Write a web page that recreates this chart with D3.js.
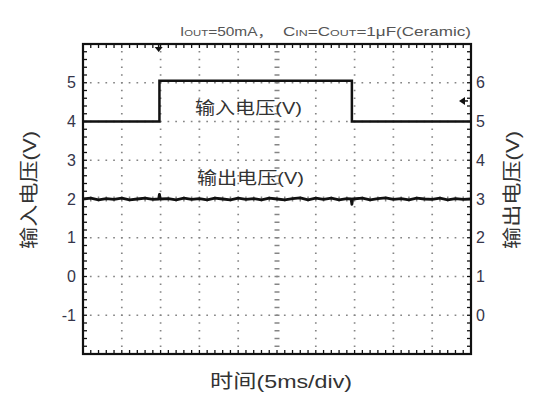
<!DOCTYPE html>
<html><head><meta charset="utf-8">
<script src="https://cdn.jsdelivr.net/npm/d3@7"></script>
<style>
html,body{margin:0;padding:0;background:#fff;}
text{font-family:"Liberation Sans",Arial,"Noto Sans CJK SC",sans-serif;}
</style></head>
<body><svg id="c" width="533" height="399"></svg>
<script>
// ---- data ----
const leftTicks = [5,4,3,2,1,0,-1];
const rightTicks = [6,5,4,3,2,1,0];
const inputT = [0, 1.97, 1.97, 6.93, 6.93, 10];
const inputV = [4.0, 4.0, 5.05, 5.05, 4.0, 4.0];
const outputT = [0,0.2,0.4,0.6,0.8,1.0,1.2,1.4,1.6,1.8,1.95,1.97,1.99,2.2,2.4,2.6,2.8,3.0,3.2,3.4,3.6,3.8,4.0,4.2,4.4,4.6,4.8,5.0,5.2,5.4,5.6,5.8,6.0,6.2,6.4,6.6,6.8,6.91,6.93,6.95,7.2,7.4,7.6,7.8,8.0,8.2,8.4,8.6,8.8,9.0,9.2,9.4,9.6,9.8,10];
const outputV = [2.0,2.02,1.98,2.01,1.99,2.02,1.98,2.0,2.02,1.99,2.0,2.12,2.0,2.01,1.98,2.02,1.99,2.01,1.98,2.02,2.0,1.98,2.02,1.99,2.01,1.98,2.02,2.0,1.98,2.01,2.03,1.98,2.02,1.99,2.02,1.98,2.01,2.0,1.86,2.0,2.02,1.98,2.01,2.03,1.99,2.01,1.98,2.02,2.0,1.99,2.02,1.98,2.01,1.99,2.0];
const triggerT = 1.95;
const triggerLevel = 4.53;
const labels = {left:"输入电压(V)", right:"输出电压(V)", x:"时间(5ms/div)", inp:"输入电压(V)", out:"输出电压(V)"};

// ---- scales ----
const svg = d3.select("#c");
const x = d3.scaleLinear().domain([0,10]).range([83,471]);
const yL = d3.scaleLinear().domain([-2,6]).range([354,44]);
const yR = d3.scaleLinear().domain([-1,7]).range([354,44]);
const minor = d3.range(0, 10.001, 0.2);
const minorY = d3.range(-2, 6.001, 0.2);
const ink = "#111";

// grid dotted lines
const g = svg.append("g");
const dx = (x(1)-x(0))/5, dy = (yL(0)-yL(1))/5;
d3.range(1,10).filter(d=>d!==5).forEach(t=>{
  g.append("line").attr("x1",x(t)).attr("x2",x(t)).attr("y1",yL(6)).attr("y2",yL(-2))
   .attr("stroke","#858585").attr("stroke-width",1.7)
   .attr("stroke-dasharray",`1.7 ${dy-1.7}`).attr("stroke-dashoffset",0.85);
});
d3.range(-1,6).filter(d=>d!==2).forEach(v=>{
  g.append("line").attr("y1",yL(v)).attr("y2",yL(v)).attr("x1",x(0)).attr("x2",x(10))
   .attr("stroke","#858585").attr("stroke-width",1.7)
   .attr("stroke-dasharray",`1.7 ${dx-1.7}`).attr("stroke-dashoffset",0.85);
});
// center axes with small dashes
minorY.forEach(v=>{
  g.append("line").attr("x1",x(5)-2.5).attr("x2",x(5)+2.5).attr("y1",yL(v)).attr("y2",yL(v))
   .attr("stroke","#858585").attr("stroke-width",1.5);
});
minor.forEach(t=>{
  g.append("line").attr("x1",x(t)).attr("x2",x(t)).attr("y1",yL(2)-2.5).attr("y2",yL(2)+2.5)
   .attr("stroke","#858585").attr("stroke-width",1.5);
});

// frame minor ticks
const fr = svg.append("g").attr("stroke",ink).attr("stroke-width",1.3);
minor.forEach(t=>{
  fr.append("line").attr("x1",x(t)).attr("x2",x(t)).attr("y1",yL(6)).attr("y2",yL(6)+4);
  fr.append("line").attr("x1",x(t)).attr("x2",x(t)).attr("y1",yL(-2)).attr("y2",yL(-2)-4);
});
minorY.forEach(v=>{
  fr.append("line").attr("x1",x(0)).attr("x2",x(0)+4).attr("y1",yL(v)).attr("y2",yL(v));
  fr.append("line").attr("x1",x(10)).attr("x2",x(10)-4).attr("y1",yL(v)).attr("y2",yL(v));
});
svg.append("rect").attr("x",x(0)).attr("y",yL(6)).attr("width",x(10)-x(0)).attr("height",yL(-2)-yL(6))
  .attr("fill","none").attr("stroke",ink).attr("stroke-width",2.2);

// traces
const line = d3.line().x(d=>x(d[0])).y(d=>yL(d[1]));
svg.append("path").datum(d3.zip(inputT,inputV)).attr("d",line)
  .attr("fill","none").attr("stroke",ink).attr("stroke-width",2.5);
svg.append("path").datum(d3.zip(outputT,outputV)).attr("d",line)
  .attr("fill","none").attr("stroke",ink).attr("stroke-width",2.8).attr("stroke-linejoin","round");

// markers
const tx = x(triggerT), ty = yL(6);
svg.append("line").attr("x1",tx).attr("x2",tx).attr("y1",ty).attr("y2",ty+4).attr("stroke",ink).attr("stroke-width",1.5);
svg.append("path").attr("d",`M${tx-4},${ty+3}L${tx+4},${ty+3}L${tx},${ty+8}Z`).attr("fill",ink);
const ay = yL(triggerLevel), ax = x(10)-3;
svg.append("path").attr("d",`M${ax-9},${ay}L${ax-3},${ay-4}L${ax-3},${ay+4}Z`).attr("fill",ink);
svg.append("line").attr("x1",ax-4).attr("x2",ax).attr("y1",ay).attr("y2",ay).attr("stroke",ink).attr("stroke-width",1.5);

// axes labels
const axL = svg.append("g").attr("transform",`translate(${x(0)-7},0)`)
  .call(d3.axisLeft(yL).tickValues(leftTicks).tickSize(0).tickPadding(0).tickFormat(d=>String(d)));
const axR = svg.append("g").attr("transform",`translate(${x(10)+5},0)`)
  .call(d3.axisRight(yR).tickValues(rightTicks).tickSize(0).tickPadding(0).tickFormat(d=>String(d)));
[axL,axR].forEach(a=>{
  a.select(".domain").remove();
  a.selectAll("text").attr("font-size",16).attr("fill","#35354a")
   .attr("font-family",'"Liberation Sans",Arial,sans-serif');
});

// axis titles
svg.append("text").attr("transform",`translate(36,190) rotate(-90)`).attr("text-anchor","middle")
  .attr("font-size",19).attr("fill","#333").attr("textLength",118).attr("lengthAdjust","spacingAndGlyphs").text(labels.left);
svg.append("text").attr("transform",`translate(519,190) rotate(-90)`).attr("text-anchor","middle")
  .attr("font-size",19).attr("fill","#333").attr("textLength",118).attr("lengthAdjust","spacingAndGlyphs").text(labels.right);
svg.append("text").attr("x",210).attr("y",388).attr("font-size",19).attr("fill","#333")
  .attr("textLength",142).attr("lengthAdjust","spacingAndGlyphs").text(labels.x);

// inline labels
svg.append("text").attr("x",195).attr("y",114).attr("font-size",17).attr("fill","#333")
  .attr("textLength",107).attr("lengthAdjust","spacingAndGlyphs").text(labels.inp);
svg.append("text").attr("x",197).attr("y",184).attr("font-size",17).attr("fill","#333")
  .attr("textLength",107).attr("lengthAdjust","spacingAndGlyphs").text(labels.out);

// title
const t1 = svg.append("text").attr("x",180).attr("y",36).attr("font-size",13).attr("fill","#555")
  .attr("textLength",93).attr("lengthAdjust","spacingAndGlyphs");
t1.append("tspan").text("I");
t1.append("tspan").attr("font-size",9.5).text("OUT");
t1.append("tspan").text("=50mA，");
const t2 = svg.append("text").attr("x",283).attr("y",36).attr("font-size",13).attr("fill","#555")
  .attr("textLength",188).attr("lengthAdjust","spacingAndGlyphs");
t2.append("tspan").text("C");
t2.append("tspan").attr("font-size",9.5).text("IN");
t2.append("tspan").text("=C");
t2.append("tspan").attr("font-size",9.5).text("OUT");
t2.append("tspan").text("=1μF(Ceramic)");
</script></body></html>
